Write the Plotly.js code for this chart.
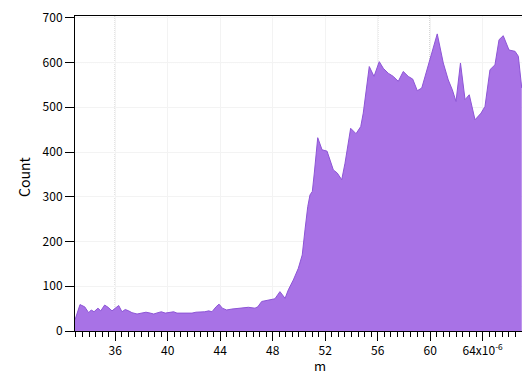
<!DOCTYPE html>
<html>
<head>
<meta charset="utf-8">
<script src="https://cdn.plot.ly/plotly-3.0.1.min.js"></script>
<style>html,body{margin:0;padding:0;background:#fff;}#chart{width:522px;height:375px;}</style>
</head>
<body>
<div id="chart"></div>
<script>
// x in units of 1e-6 m
var mValues = [32.93,33.31,33.67,33.97,34.17,34.38,34.68,34.89,35.19,35.45,35.75,36.00,36.26,36.51,36.76,37.02,37.27,37.66,38.04,38.34,38.67,38.93,39.26,39.51,39.81,40.12,40.45,40.70,41.09,41.47,41.85,42.15,42.48,42.82,43.12,43.37,43.68,43.91,44.16,44.49,44.87,45.25,45.64,46.14,46.65,46.86,47.16,47.66,48.17,48.55,48.94,49.19,49.57,49.95,50.25,50.46,50.67,50.84,51.02,51.17,51.28,51.43,51.76,52.14,52.37,52.62,52.92,53.26,53.51,53.94,54.35,54.71,54.90,55.16,55.36,55.72,56.12,56.43,56.81,57.19,57.57,57.95,58.33,58.67,59.02,59.36,59.61,59.93,60.12,60.54,61.00,61.38,61.69,61.97,62.31,62.66,62.98,63.42,63.88,64.18,64.56,64.94,65.25,65.57,66.01,66.47,66.72,66.98];
var counts = [25,59,54,41,47,43,51,45,58,53,45,51,57,43,48,45,41,38,40,42,40,38,41,43,40,41,43,40,40,41,40,42,42,43,45,43,54,60,51,47,49,50,51,53,51,54,66,69,72,88,73,92,114,140,170,226,278,304,312,353,390,432,405,402,382,360,353,338,375,453,441,457,487,546,591,569,602,587,576,569,558,580,569,563,537,543,569,606,621,664,599,561,539,513,599,517,528,472,487,502,584,595,651,660,628,625,614,543];
var xTickVals = [36,40,44,48,52,56,60,64];
var xTickText = ['36','40','44','48','52','56','60','64x10<sup>-6</sup>'];
var yTickVals = [0,100,200,300,400,500,600,700];
var cursorX = [36,56,60];
var cursorY = [600];

var trace = {
  x: mValues, y: counts, type: 'scatter', mode: 'lines',
  fill: 'tozeroy', fillcolor: '#a872e6',
  line: {color: '#8d55d6', width: 1},
  hoverinfo: 'skip'
};
var shapes = [];
cursorX.forEach(function(v){
  shapes.push({type:'line', xref:'x', yref:'paper', x0:v, x1:v, y0:0, y1:1, layer:'below',
    line:{color:'#8a8a8a', width:1, dash:'1px,1px'}});
});
cursorY.forEach(function(v){
  shapes.push({type:'line', xref:'paper', yref:'y', x0:0, x1:1, y0:v, y1:v, layer:'below',
    line:{color:'#8a8a8a', width:1, dash:'1px,1px'}});
});
var fnt = {family: '"Noto Sans CJK JP", "Noto Sans", sans-serif', size: 12, color: '#000'};
var layout = {
  width: 522, height: 375,
  margin: {l: 75, r: 0, t: 16, b: 44},
  paper_bgcolor: '#fff', plot_bgcolor: '#fff',
  showlegend: false,
  font: fnt,
  xaxis: {
    range: [32.93, 67.0], tickmode: 'array', tickvals: xTickVals, ticktext: xTickText,
    ticks: 'outside', ticklen: 9, tickwidth: 1, tickcolor: '#000',
    minor: {dtick: 0.5, tick0: 0, ticks: 'outside', ticklen: 5, tickwidth: 1, tickcolor: '#000', showgrid: false},
    showline: true, linecolor: '#000', linewidth: 1, mirror: true,
    showgrid: true, gridcolor: '#f3f3f3', gridwidth: 1, zeroline: false,
    tickfont: fnt
  },
  yaxis: {
    range: [0, 704], tickmode: 'array', tickvals: yTickVals,
    ticks: 'outside', ticklen: 9, tickwidth: 1, tickcolor: '#000',
    showline: true, linecolor: '#000', linewidth: 1,
    showgrid: true, gridcolor: '#f3f3f3', gridwidth: 1, zeroline: false,
    tickfont: fnt
  },
  shapes: shapes,
  annotations: [
    {text: 'Count', xref: 'paper', yref: 'paper', x: -0.114, y: 0.489, textangle: -90,
     showarrow: false, xanchor: 'center', yanchor: 'middle', font: {family: fnt.family, size: 14, color: '#000'}},
    {text: 'm', xref: 'paper', yref: 'paper', x: 0.548, y: -0.11,
     showarrow: false, xanchor: 'center', yanchor: 'middle', font: {family: fnt.family, size: 13, color: '#000'}}
  ]
};
Plotly.newPlot('chart', [trace], layout, {staticPlot: true, displayModeBar: false});
</script>
</body>
</html>
